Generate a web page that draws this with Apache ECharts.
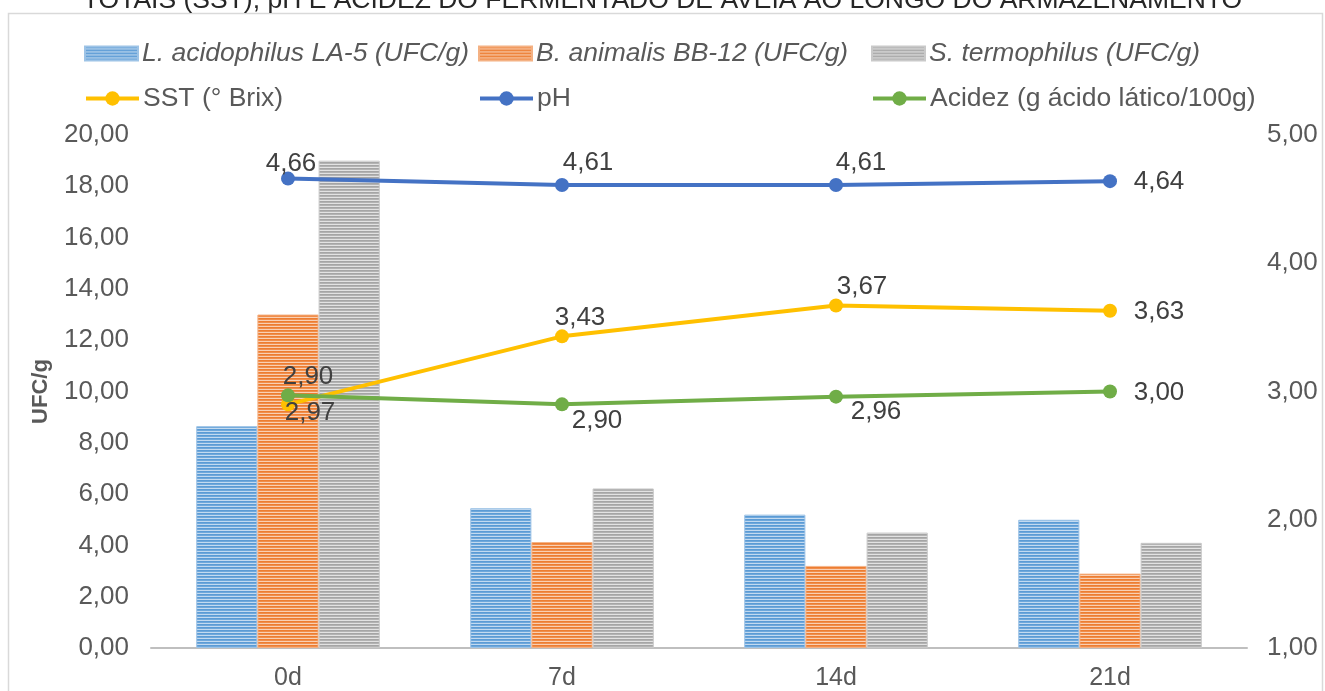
<!DOCTYPE html>
<html>
<head>
<meta charset="utf-8">
<script src="https://cdn.jsdelivr.net/npm/echarts@6/dist/echarts.min.js"></script>
<style>
html,body{margin:0;padding:0;background:#fff;}
#chart{width:1325px;height:691px;}
</style>
</head>
<body>
<div id="chart"></div>
<script>
const titleText = 'TOTAIS (SST), pH E ACIDEZ DO FERMENTADO DE AVEIA AO LONGO DO ARMAZENAMENTO';
const categories = ['0d', '7d', '14d', '21d'];
const laValues = [8.65, 5.45, 5.2, 5.0];
const bbValues = [13.0, 4.13, 3.2, 2.9];
const stValues = [19.0, 6.22, 4.5, 4.1];
const sstValues = [2.90, 3.43, 3.67, 3.63];
const phValues = [4.66, 4.61, 4.61, 4.64];
const acidezValues = [2.97, 2.90, 2.96, 3.00];
const seriesNames = [
  'L. acidophilus LA-5 (UFC/g)',
  'B. animalis BB-12 (UFC/g)',
  'S. termophilus (UFC/g)',
  'SST (° Brix)',
  'pH',
  'Acidez (g ácido lático/100g)'
];
const leftAxisName = 'UFC/g';

const FONT = '"Liberation Sans", Arial, sans-serif';
const fmt = v => v.toFixed(2).replace('.', ',');

function stripe(rows) {
  const cv = document.createElement('canvas');
  cv.width = 4; cv.height = rows.length;
  const ctx = cv.getContext('2d');
  rows.forEach((c, i) => { ctx.fillStyle = c; ctx.fillRect(0, i, 4, 1); });
  return { image: cv, repeat: 'repeat' };
}
const blueFill = stripe(['#5B9BD5', '#6FA8DB', '#C3DAF0']);
const orangeFill = stripe(['#ED7D31', '#F08E4C', '#F9D0B4']);
const grayFill = stripe(['#A5A5A5', '#B3B3B3', '#E2E2E2']);

// label offsets (style) relative to the point centre
const phOff = [[3, -15], [26, -22], [25, -22], [49, 1]];
const sstOff = [[20, -27], [18, -19], [26, -19], [49, 1]];
const acOff = [[22, 17], [35, 17], [40, 15], [49, 1]];

function withLabels(vals, offs) {
  return vals.map((v, i) => ({
    value: v,
    label: { show: true, position: 'inside', offset: offs[i] }
  }));
}

const labelStyle = {
  show: true, formatter: p => fmt(p.value), color: '#404040',
  fontSize: 26, fontFamily: FONT, align: 'center', verticalAlign: 'middle'
};

function barSeries(name, vals, fill, edge) {
  return {
    name, type: 'bar', data: vals, yAxisIndex: 0,
    barGap: '0%', barCategoryGap: '33%',
    itemStyle: { color: fill, borderColor: edge, borderWidth: 1 },
    emphasis: { disabled: true }
  };
}
function lineSeries(name, vals, offs, color) {
  return {
    name, type: 'line', yAxisIndex: 1, data: withLabels(vals, offs),
    symbol: 'circle', symbolSize: 14, z: 5,
    lineStyle: { color, width: 4 }, itemStyle: { color },
    label: labelStyle, emphasis: { disabled: true }
  };
}

function leg(name, left, top, italic, isBar) {
  return {
    data: [isBar ? { name, icon: 'rect' } : name],
    left, top, padding: 0, itemWidth: 53, itemHeight: isBar ? 14 : 18, itemGap: 0,
    lineStyle: { width: 4 },
    textStyle: { fontSize: 26.5, fontFamily: FONT, color: '#595959', fontStyle: italic ? 'italic' : 'normal', padding: [0, 0, 0, -1] },
    selectedMode: false
  };
}

const chart = echarts.init(document.getElementById('chart'), null, { renderer: 'canvas' });
chart.setOption({
  animation: false,
  backgroundColor: '#fff',
  title: {
    text: titleText, left: 'center', top: -18,
    textStyle: { fontSize: 26.5, fontWeight: 'normal', color: '#262626', fontFamily: FONT }
  },
  graphic: [{
    type: 'rect', shape: { x: 8.5, y: 13.5, width: 1314, height: 700 },
    style: { fill: 'none', stroke: '#D9D9D9', lineWidth: 1.5 }, z: -1
  }],
  legend: [
    leg(seriesNames[0], 84, 40, true, true),
    leg(seriesNames[1], 478, 40, true, true),
    leg(seriesNames[2], 871, 40, true, true),
    leg(seriesNames[3], 84, 85, false, false),
    leg(seriesNames[4], 478, 85, false, false),
    leg(seriesNames[5], 871, 85, false, false)
  ],
  grid: { left: 151, right: 78, top: 135, bottom: 43 },
  xAxis: {
    type: 'category', data: categories, boundaryGap: true,
    axisLine: { lineStyle: { color: '#BFBFBF', width: 2 } },
    axisTick: { show: false },
    axisLabel: { fontSize: 25, fontFamily: FONT, color: '#595959', margin: 18 }
  },
  yAxis: [{
    type: 'value', min: 0, max: 20, interval: 2,
    name: leftAxisName, nameLocation: 'middle', nameGap: 99, nameRotate: 90,
    nameTextStyle: { fontSize: 22, fontWeight: 'bold', fontFamily: FONT, color: '#595959' },
    axisLine: { show: false }, axisTick: { show: false }, splitLine: { show: false },
    axisLabel: { formatter: fmt, fontSize: 26, fontFamily: FONT, color: '#595959', margin: 22 }
  }, {
    type: 'value', min: 1, max: 5, interval: 1, position: 'right',
    axisLine: { show: false }, axisTick: { show: false }, splitLine: { show: false },
    axisLabel: { formatter: fmt, fontSize: 26, fontFamily: FONT, color: '#595959', margin: 20 }
  }],
  series: [
    barSeries(seriesNames[0], laValues, blueFill, '#9DC3E6'),
    barSeries(seriesNames[1], bbValues, orangeFill, '#F4B183'),
    barSeries(seriesNames[2], stValues, grayFill, '#C9C9C9'),
    lineSeries(seriesNames[3], sstValues, sstOff, '#FFC000'),
    lineSeries(seriesNames[4], phValues, phOff, '#4472C4'),
    lineSeries(seriesNames[5], acidezValues, acOff, '#70AD47')
  ]
});
</script>
</body>
</html>
